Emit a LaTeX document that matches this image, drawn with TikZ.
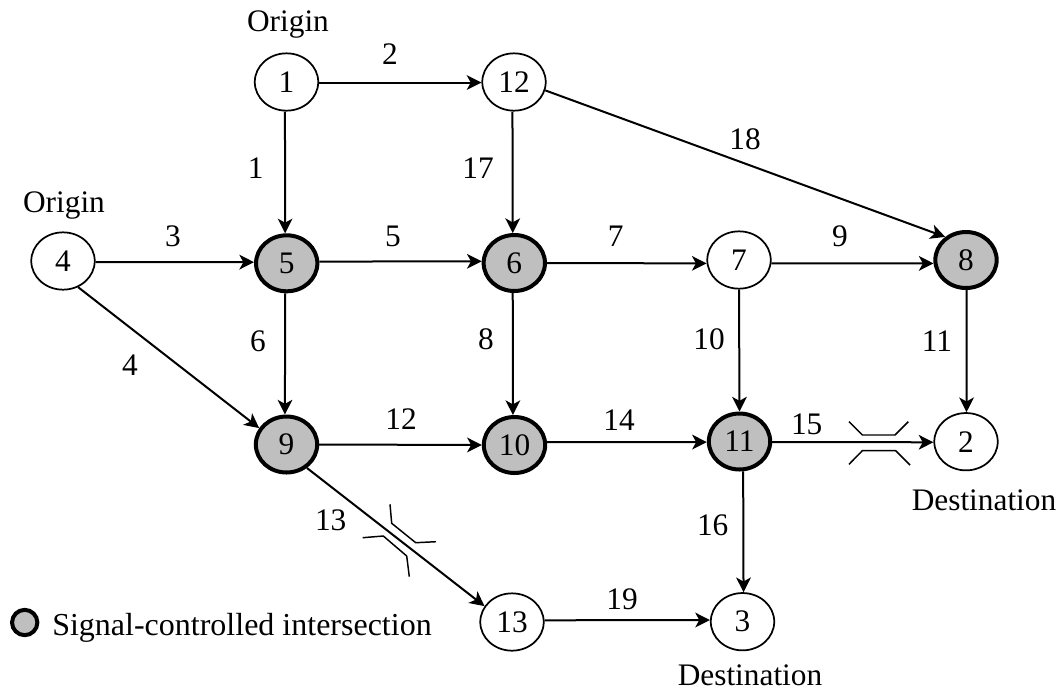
\documentclass[tikz,border=0pt]{standalone}
\usepackage{fontspec}
\setmainfont{Liberation Serif}
\usetikzlibrary{arrows.meta,shapes.geometric}
\tikzset{
  x=0.75pt,y=-0.75pt,
  plain/.style={ellipse,draw=black,line width=1.3pt,fill=white,minimum width=47.6pt,minimum height=43pt,inner sep=0pt,font=\fontsize{23.5}{26}\selectfont},
  signal/.style={plain,line width=3pt,fill=black!25,minimum width=46pt,minimum height=42pt},
  link/.style={draw=black,line width=1.5pt,-{Stealth[length=11pt,width=11pt,inset=3pt]}},
  lbl/.style={inner sep=0pt,font=\fontsize{23.5}{26}\selectfont},
  bridge/.style={draw=black,line width=1.1pt},
}
\begin{document}
\begin{tikzpicture}
\useasboundingbox (0,0) rectangle (1063,693);
\node[plain] (n1) at (286.5,82) {1};
\node[plain] (n12) at (514,82) {12};
\node[plain] (n4) at (63,261) {4};
\node[signal] (n5) at (286.7,263.3) {5};
\node[signal] (n6) at (514.3,263) {6};
\node[plain] (n7) at (739,260) {7};
\node[signal] (n8) at (966,260) {8};
\node[signal] (n9) at (286.5,444.5) {9};
\node[signal] (n10) at (514.5,445) {10};
\node[signal] (n11) at (739.5,441.5) {11};
\node[plain] (n2) at (966,441.7) {2};
\node[plain] (n13) at (512,622) {13};
\node[plain] (n3) at (742.5,621.7) {3};
\draw[link] (n1.-1) -- (n12.181);
\draw[link] (n1.-93.5) -- (n5.93.5);
\draw[link] (n12.-93) -- (n6.93);
\draw[link] (n12.-15.5) -- (n8.132);
\draw[link] (n4.-2) -- (n5.178);
\draw[link] (n4.-60) -- (n9.149);
\draw[link] (n5.3) -- (n6.177);
\draw[link] (n5.-93) -- (n9.93);
\draw[link] (n6.0) -- (n7.186);
\draw[link] (n6.-93.5) -- (n10.93.5);
\draw[link] (n7.-6) -- (n8.186);
\draw[link] (n7.-90) -- (n11.90);
\draw[link] (n8.-89) -- (n2.89);
\draw[link] (n9.0) -- (n10.180);
\draw[link] (n9.-49) -- (n13.150);
\draw[link] (n10.5) -- (n11.181.5);
\draw[link] (n11.-1.5) -- (n2.181);
\draw[link] (n11.-83) -- (n3.88);
\draw[link] (n13.3.5) -- (n3.177);
\node[lbl] (l2) at (390,54) {2};
\node[lbl] (l1) at (255.7,168) {1};
\node[lbl] (l17) at (478,168) {17};
\node[lbl] (l18) at (745,139) {18};
\node[lbl] (l3) at (173,236) {3};
\node[lbl] (l5) at (393,236.7) {5};
\node[lbl] (l7) at (615.7,236.7) {7};
\node[lbl] (l9) at (840,236) {9};
\node[lbl] (l6) at (258,341) {6};
\node[lbl] (l8) at (486,339) {8};
\node[lbl] (l10) at (709,339) {10};
\node[lbl] (l11) at (937,341) {11};
\node[lbl] (l4) at (130,365) {4};
\node[lbl] (l12) at (401,419) {12};
\node[lbl] (l14) at (619,420) {14};
\node[lbl] (l15) at (806.7,424) {15};
\node[lbl] (l13) at (330.7,520) {13};
\node[lbl] (l16) at (712.7,525.7) {16};
\node[lbl] (l19) at (622,599) {19};
\node[lbl] (o1) at (288,25) {Origin};
\node[lbl] (o4) at (64,206) {Origin};
\node[lbl] (d2) at (984,500) {Destination};
\node[lbl] (d3) at (750,675) {Destination};
\node[signal,minimum width=19pt,minimum height=19pt] (key) at (24.7,622.5) {};
\node[lbl,anchor=west,font=\fontsize{24}{26}\selectfont] (keytext) at (52,628) {Signal-controlled intersection};
\draw[bridge] (849,421.7) -- (862.3,435) -- (895,435) -- (908.3,421.7);
\draw[bridge] (849,464.3) -- (862.3,450.7) -- (895.7,450.7) -- (910,465);
\draw[bridge] (390,504.3) -- (391.7,523.3) -- (415.7,542.7) -- (436,541.7);
\draw[bridge] (362.7,537.7) -- (383.3,536) -- (406.7,556) -- (409.3,576.7);
\end{tikzpicture}
\end{document}
